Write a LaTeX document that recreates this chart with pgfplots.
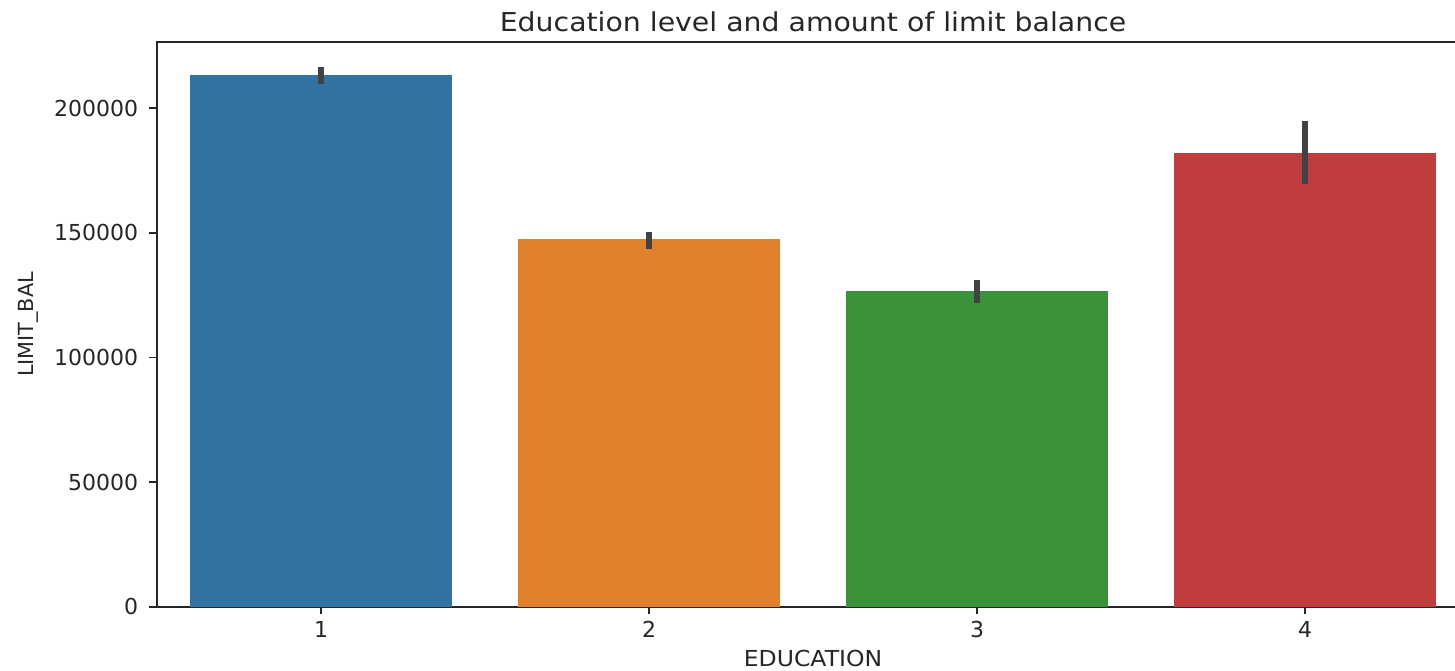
\documentclass[border=0pt]{standalone}
\usepackage{pgfplots}
\pgfplotsset{compat=1.18}
\usepackage{graphicx}
\usepackage{fontspec}
\setmainfont{DejaVu Sans}
\definecolor{c1}{HTML}{3274A1}
\definecolor{c2}{HTML}{E1812C}
\definecolor{c3}{HTML}{3A923A}
\definecolor{c4}{HTML}{C03D3E}
\definecolor{errc}{HTML}{424242}
\definecolor{txt}{HTML}{262626}
\begin{document}
\begin{tikzpicture}
\begin{axis}[
 scale only axis, width=656pt, height=282.2pt,
 xmin=-0.5, xmax=3.5, ymin=0, ymax=226500,
 xtick={0,1,2,3}, xticklabels={1,2,3,4},
 ytick={0,50000,100000,150000,200000},
 scaled y ticks=false,
 yticklabel style={/pgf/number format/fixed, /pgf/number format/1000 sep={}, xshift=-2pt},
 /pgf/number format/assume math mode=true,
 tick align=outside, tick pos=left, major tick length=3.85pt,
 every tick/.style={txt, line width=0.88pt},
 axis line style={txt, line width=0.88pt},
 ticklabel style={font=\fontsize{11}{13}\selectfont, text=txt},
 ybar, bar width=0.8,
 title={\scalebox{1.09}[1]{Education level and amount of limit balance}},
 title style={font=\fontsize{13}{15}\selectfont, text=txt, at={(axis description cs:0.5,1)}, anchor=base, yshift=-0.7pt},
 xlabel={\scalebox{1.07}[1]{EDUCATION}},
 xlabel style={font=\fontsize{11}{13}\selectfont, text=txt, at={(axis description cs:0.5,0)}, anchor=base, yshift=-29.65pt},
 ylabel={LIMIT\_BAL},
 ylabel style={font=\fontsize{10.4}{12}\selectfont, text=txt, at={(axis description cs:-0.0983,0.5)}, anchor=center},
 error bars/y dir=both, error bars/y explicit,
 error bars/error mark=none,
 error bars/error bar style={errc, line width=3pt},
]
\addplot[ybar, bar shift=0pt, fill=c1, draw=none] coordinates {(0,213363) += (0,3330) -= (0,3733)};
\addplot[ybar, bar shift=0pt, fill=c2, draw=none] coordinates {(1,147552) += (0,2689) -= (0,3892)};
\addplot[ybar, bar shift=0pt, fill=c3, draw=none] coordinates {(2,126806) += (0,4294) -= (0,4816)};
\addplot[ybar, bar shift=0pt, fill=c4, draw=none] coordinates {(3,181942) += (0,13082) -= (0,12319)};
\end{axis}
\pgfresetboundingbox
\path[use as bounding box] (-78.5pt,-31.65pt) rectangle (649pt,303.35pt);
\end{tikzpicture}
\end{document}
